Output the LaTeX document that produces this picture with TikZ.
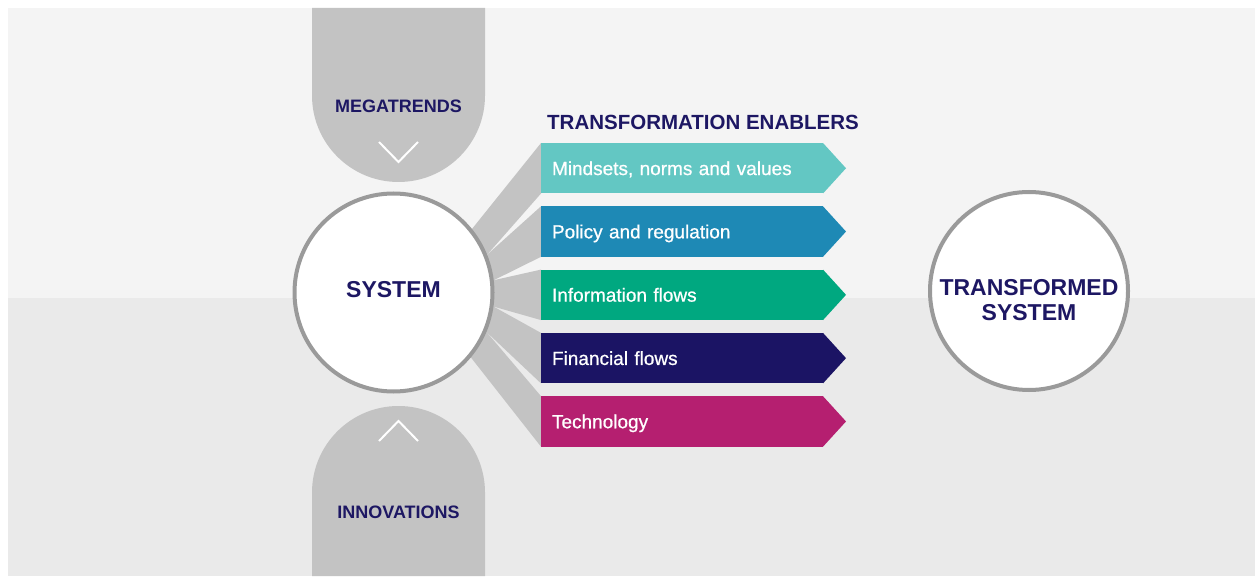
\documentclass[tikz,border=0pt]{standalone}
\usepackage{fontspec}
\setmainfont{Liberation Sans}
\newfontfamily\medfont[FakeBold=0.7]{Liberation Sans}
\usetikzlibrary{calc}
\definecolor{bgtop}{HTML}{F4F4F4}
\definecolor{bgbot}{HTML}{EAEAEA}
\definecolor{shapegray}{HTML}{C3C3C3}
\definecolor{ringgray}{HTML}{9A9A9A}
\definecolor{navy}{HTML}{1D1763}
\definecolor{cteal}{HTML}{63C7C3}
\definecolor{cblue}{HTML}{1E89B5}
\definecolor{cgreen}{HTML}{00A880}
\definecolor{cnavy}{HTML}{1B1464}
\definecolor{cmag}{HTML}{B51F70}
\pgfdeclarelayer{bg}
\pgfdeclarelayer{fanlayer}
\pgfsetlayers{bg,fanlayer,main}
\begin{document}
\begin{tikzpicture}[x=1pt,y=1pt,
  hd/.style={font=\bfseries\fontsize{18}{20}\selectfont, text=navy, inner sep=0pt},
  bar/.style={rectangle, minimum width=282pt, minimum height=50.5pt, inner xsep=11pt, inner ysep=0pt, outer sep=0pt, text width=260pt, align=left, text=white, font=\medfont\fontsize{19}{22}\selectfont, text height=13.6pt, text depth=0pt, anchor=west},
  fan/.style={fill=shapegray},
  ring/.style={circle, draw=ringgray, line width=4pt, fill=white, minimum size=198pt, inner sep=0pt},
  ringtext/.style={text=navy, font=\bfseries\fontsize{23}{25}\selectfont, align=center, inner sep=0pt},
  chev/.style={draw=white, line width=2pt}
]
\useasboundingbox (0,0) rectangle (1255,576);
\begin{pgfonlayer}{bg}
\fill[bgtop] (8,278) rectangle (1255,568);
\fill[bgbot] (8,0) rectangle (1255,278);
\fill[shapegray] (312,568) -- (312,480.5) arc[start angle=180,end angle=360,radius=86.5] -- (485,568) -- cycle;
\fill[shapegray] (312,0) -- (312,83.5) arc[start angle=180,end angle=0,radius=86.5] -- (485,0) -- cycle;
\draw[chev] (379,434) -- (398.5,414) -- (418,434);
\draw[chev] (379,135) -- (398.5,155) -- (418,135);
\end{pgfonlayer}

\node[hd, anchor=base] (mega) at (398.5,463) {MEGATRENDS};
\node[hd, anchor=base] (inno) at (398.5,57.7) {INNOVATIONS};
\node[hd, font=\bfseries\fontsize{20.5}{22}\selectfont, anchor=base] (title) at (703,446) {TRANSFORMATION ENABLERS};

\node[ring] (sys) at (393.5,283.5) {};
\node[ringtext] (systxt) at (393.5,286) {SYSTEM};
\node[ring] (trans) at (1029,285) {};
\node[ringtext] (transtxt) at (1029,276) {TRANSFORMED\\SYSTEM};

\node[bar, fill=cteal] (b1) at (541,407.75) {Mindsets, norms and values};
\node[bar, fill=cblue] (b2) at (541,344.45) {Policy and regulation};
\node[bar, fill=cgreen] (b3) at (541,281.15) {Information flows};
\node[bar, fill=cnavy] (b4) at (541,217.85) {Financial flows};
\node[bar, fill=cmag] (b5) at (541,154.55) {Technology};

\fill[cteal] (b1.north east) -- ([xshift=23pt]b1.east) -- (b1.south east) -- cycle;
\fill[cblue] (b2.north east) -- ([xshift=23pt]b2.east) -- (b2.south east) -- cycle;
\fill[cgreen] (b3.north east) -- ([xshift=23pt]b3.east) -- (b3.south east) -- cycle;
\fill[cnavy] (b4.north east) -- ([xshift=23pt]b4.east) -- (b4.south east) -- cycle;
\fill[cmag] (b5.north east) -- ([xshift=23pt]b5.east) -- (b5.south east) -- cycle;

\begin{pgfonlayer}{fanlayer}
\fill[fan] (b1.north west) -- (b1.south west) -- (sys.22) -- (sys.center) -- (sys.39) -- cycle;
\fill[fan] (b2.north west) -- (b2.south west) -- (sys.7.5) -- (sys.center) -- (sys.22) -- cycle;
\fill[fan] (b3.north west) -- (b3.south west) -- (sys.-8.5) -- (sys.center) -- (sys.7.5) -- cycle;
\fill[fan] (b4.north west) -- (b4.south west) -- (sys.-23) -- (sys.center) -- (sys.-8.5) -- cycle;
\fill[fan] (b5.north west) -- (b5.south west) -- (sys.-40) -- (sys.center) -- (sys.-23) -- cycle;
\end{pgfonlayer}
\end{tikzpicture}
\end{document}
